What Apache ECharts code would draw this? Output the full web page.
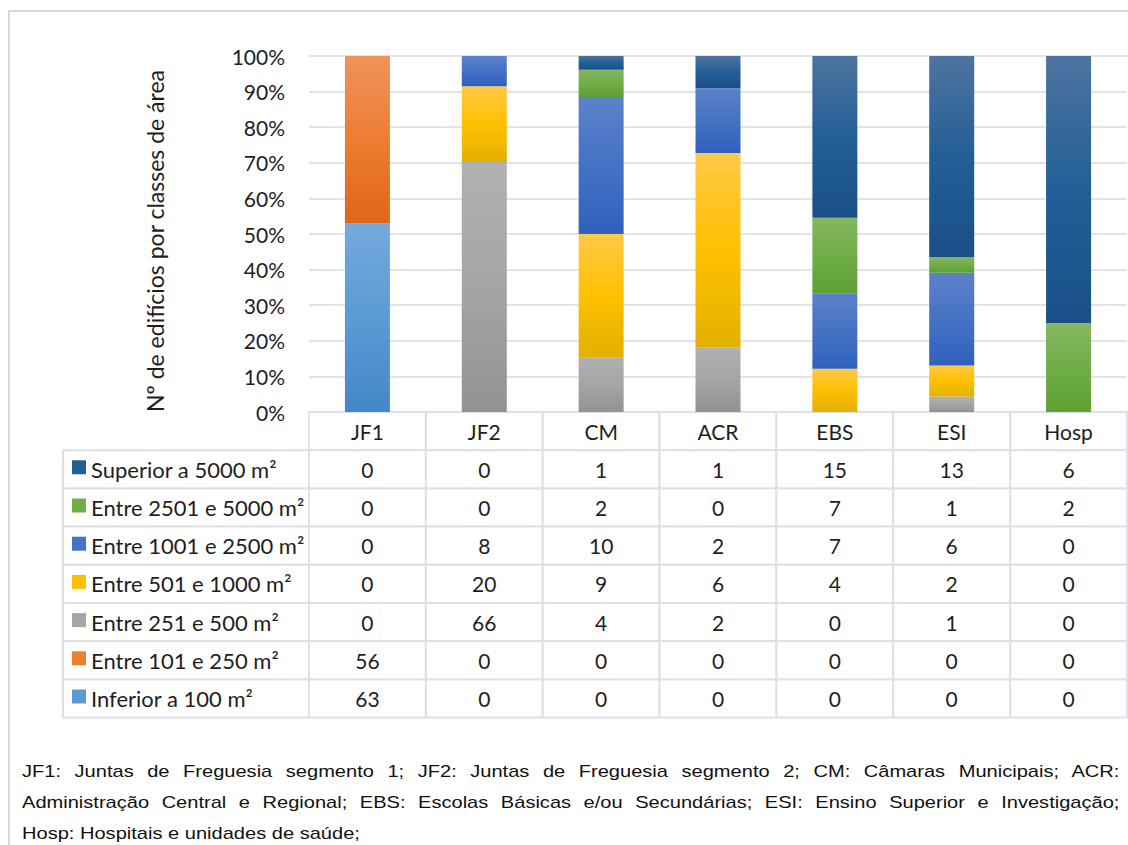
<!DOCTYPE html>
<html>
<head>
<meta charset="utf-8">
<title>Nº de edifícios por classes de área</title>
<script src="https://cdn.jsdelivr.net/npm/echarts@6/dist/echarts.min.js"></script>
<style>
  html, body { margin: 0; padding: 0; background: #fff; }
  #wrap { position: relative; width: 1128px; height: 845px; overflow: hidden; }
  #chart { width: 1128px; height: 845px; }
  .nota {
    position: absolute; left: 22px; top: 756px; width: 930px;
    transform: scaleX(1.18); transform-origin: left top;
    font-family: 'Liberation Sans', Arial, sans-serif; font-size: 17px; line-height: 31px; color: #111;
  }
  .nota div { text-align: justify; text-align-last: justify; }
  .nota div.ultima { text-align-last: left; }
</style>
</head>
<body>
<div id="wrap">
  <div id="chart"></div>
  <div class="nota">
    <div>JF1: Juntas de Freguesia segmento 1; JF2: Juntas de Freguesia segmento 2; CM: Câmaras Municipais; ACR:</div>
    <div>Administração Central e Regional; EBS: Escolas Básicas e/ou Secundárias; ESI: Ensino Superior e Investigação;</div>
    <div class="ultima">Hosp: Hospitais e unidades de saúde;</div>
  </div>
</div>
<script>
// categorias (colunas)
const categorias = ['JF1', 'JF2', 'CM', 'ACR', 'EBS', 'ESI', 'Hosp']

// nº de edifícios por classe de área
const inferior100 = [63, 0, 0, 0, 0, 0, 0]
const entre101e250 = [56, 0, 0, 0, 0, 0, 0]
const entre251e500 = [0, 66, 4, 2, 0, 1, 0]
const entre501e1000 = [0, 20, 9, 6, 4, 2, 0]
const entre1001e2500 = [0, 8, 10, 2, 7, 6, 0]
const entre2501e5000 = [0, 0, 2, 0, 7, 1, 2]
const superior5000 = [0, 0, 1, 1, 15, 13, 6]

// ordem da pilha (de baixo para cima)
const classes = [
  'Inferior a 100 m²',
  'Entre 101 e 250 m²',
  'Entre 251 e 500 m²',
  'Entre 501 e 1000 m²',
  'Entre 1001 e 2500 m²',
  'Entre 2501 e 5000 m²',
  'Superior a 5000 m²',
]
const valores = [inferior100, entre101e250, entre251e500, entre501e1000, entre1001e2500, entre2501e5000, superior5000]

// cor base (legenda) e gradiente das barras: topo, meio, base
const coresBase = ['#5b9bd5', '#ed7d31', '#a5a5a5', '#ffc000', '#4472c4', '#70ad47', '#255e91']
const coresGrad = [
  ['#74a9dc', '#5b9bd5', '#4387c8'],
  ['#f0925c', '#ed7d31', '#df661b'],
  ['#b1b1b1', '#a5a5a5', '#929292'],
  ['#ffc948', '#ffc000', '#e2b100'],
  ['#5d82ca', '#4472c4', '#2f61bd'],
  ['#85b75f', '#70ad47', '#5f9f33'],
  ['#4e73a0', '#225f96', '#1a4f88'],
]

const fonte = "Lato, 'Open Sans', sans-serif"
const corTexto = '#1e1e1e'
const corBorda = '#dde1e7'

const totais = categorias.map((c, i) => valores.reduce((s, v) => s + v[i], 0))
const percent = (arr) => arr.map((v, i) => (v / totais[i]) * 100)

// linhas da tabela de cima para baixo
const linhasTabela = classes.slice().reverse()
const valoresTabela = valores.slice().reverse()
const coresTabela = coresBase.slice().reverse()

const dadosTabela = []
categorias.forEach((c, i) => {
  dadosTabela.push([i, 0])
  linhasTabela.forEach((l, r) => dadosTabela.push([i, r + 1]))
})
const dadosLegenda = linhasTabela.map((l, r) => [0, r])

const gradiente = (c) => ({
  type: 'linear', x: 0, y: 0, x2: 0, y2: 1,
  colorStops: [
    { offset: 0, color: c[0] },
    { offset: 0.5, color: c[1] },
    { offset: 1, color: c[2] },
  ],
})

function celula(params, api) {
  const col = api.value(0)
  const row = api.value(1)
  const p = api.coord([col, row])
  const s = api.size([1, 1])
  const texto = row === 0 ? categorias[col] : String(valoresTabela[row - 1][col])
  return {
    type: 'group',
    children: [
      {
        type: 'rect',
        shape: { x: p[0] - s[0] / 2, y: p[1] - s[1] / 2, width: s[0], height: s[1] },
        style: { fill: '#fff', stroke: corBorda, lineWidth: 2 },
      },
      {
        type: 'text',
        x: p[0],
        y: p[1],
        style: { text: texto, align: 'center', verticalAlign: 'middle', fontSize: 21, fontFamily: fonte, fill: corTexto },
      },
    ],
  }
}

function celulaLegenda(params, api) {
  const row = api.value(1)
  const p = api.coord([0, row])
  const s = api.size([1, 1])
  const esq = p[0] - s[0] / 2
  return {
    type: 'group',
    children: [
      {
        type: 'rect',
        shape: { x: esq, y: p[1] - s[1] / 2, width: s[0], height: s[1] },
        style: { fill: '#fff', stroke: corBorda, lineWidth: 2 },
      },
      {
        type: 'rect',
        shape: { x: esq + 9, y: p[1] - 9, width: 14, height: 14 },
        style: { fill: coresTabela[row] },
      },
      {
        type: 'text',
        x: esq + 28,
        y: p[1],
        style: { text: linhasTabela[row], align: 'left', verticalAlign: 'middle', fontSize: 22, fontFamily: fonte, fill: corTexto },
      },
    ],
  }
}

const myChart = echarts.init(document.getElementById('chart'), null, { renderer: 'svg' })

const option = {
  animation: false,
  backgroundColor: '#fff',
  graphic: [
    {
      type: 'rect',
      shape: { x: 9, y: 11, width: 1300, height: 1000 },
      style: { fill: 'none', stroke: '#d9d9d9', lineWidth: 2 },
      silent: true,
    },
  ],
  grid: [
    { left: 309, top: 56, width: 818, height: 356 },
    { left: 309, top: 412, width: 818, height: 305.6 },
    { left: 63, top: 450.2, width: 246, height: 267.4 },
  ],
  xAxis: [
    {
      type: 'category', gridIndex: 0, data: categorias,
      axisLine: { show: false }, axisTick: { show: false }, axisLabel: { show: false },
    },
    { type: 'category', gridIndex: 1, data: categorias, show: false },
    { type: 'category', gridIndex: 2, data: ['legenda'], show: false },
  ],
  yAxis: [
    {
      type: 'value', gridIndex: 0, min: 0, max: 100, interval: 10,
      name: 'Nº de edifícios por classes de área',
      nameLocation: 'middle', nameRotate: 90, nameGap: 143,
      nameTextStyle: { fontSize: 23, fontFamily: fonte, color: corTexto, padding: [0, 14, 0, 0] },
      axisLabel: { formatter: '{value}%', fontSize: 21, fontFamily: fonte, color: corTexto, margin: 24 },
      axisLine: { show: false }, axisTick: { show: false },
      splitLine: { lineStyle: { color: '#e0e3e9', width: 2 } },
    },
    { type: 'category', gridIndex: 1, data: ['cabecalho'].concat(linhasTabela), inverse: true, show: false },
    { type: 'category', gridIndex: 2, data: linhasTabela, inverse: true, show: false },
  ],
  series: classes
    .map((nome, k) => ({
      name: nome,
      type: 'bar',
      stack: 'total',
      barWidth: 45,
      xAxisIndex: 0,
      yAxisIndex: 0,
      data: percent(valores[k]),
      itemStyle: { color: gradiente(coresGrad[k]) },
      emphasis: { disabled: true },
    }))
    .concat([
      {
        type: 'custom', name: 'tabela', xAxisIndex: 1, yAxisIndex: 1,
        renderItem: celula, data: dadosTabela, silent: true,
      },
      {
        type: 'custom', name: 'legenda', xAxisIndex: 2, yAxisIndex: 2,
        renderItem: celulaLegenda, data: dadosLegenda, silent: true,
      },
    ]),
}

myChart.setOption(option)
</script>
</body>
</html>
